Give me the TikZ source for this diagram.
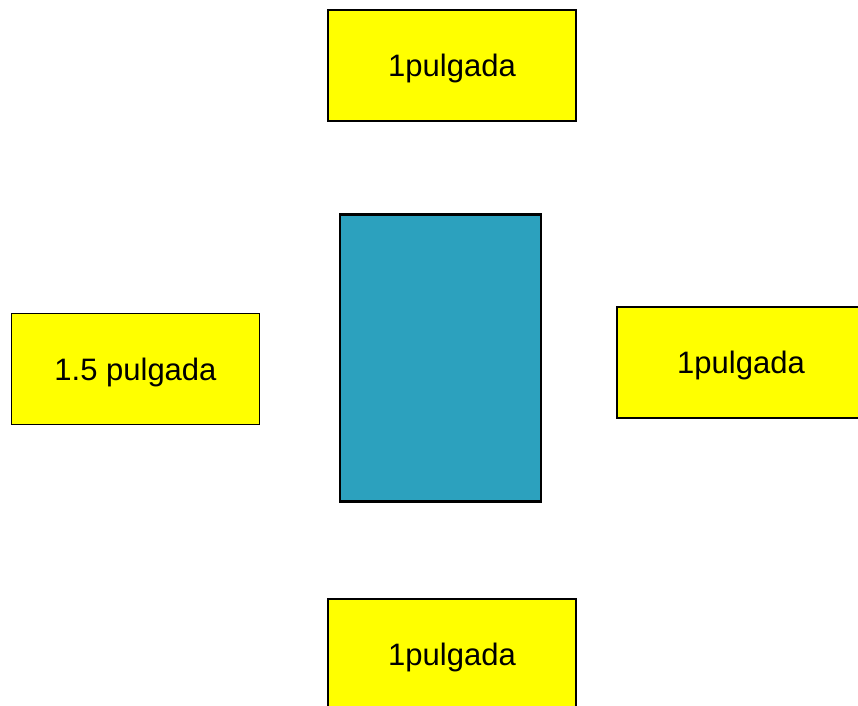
\documentclass[tikz,border=0pt]{standalone}
\usepackage{fontspec}
\setmainfont{Liberation Sans}
\usepackage{xcolor}
\usepackage{tikz}
\definecolor{tealbox}{RGB}{44,161,190}
\definecolor{amarillo}{RGB}{255,255,0}
\tikzset{
    medida/.style = {rectangle, draw=black, line width=1.8pt, fill=amarillo, inner sep=0pt, text depth=0pt,
                     minimum width=248pt, minimum height=111pt, font=\fontsize{31}{36}\selectfont},
    pieza/.style = {rectangle, draw=black, line width=2.6pt, fill=tealbox, inner sep=0pt,
                    minimum width=201pt, minimum height=287pt}
}
\begin{document}
\begin{tikzpicture}[x=1pt,y=-1pt]
    \useasboundingbox (0,0) rectangle (858,705);
    \node [pieza] (centro) at (440.5,358) {};
    \node [medida] (arriba) at (452,65.5) {1pulgada};
    \node [medida] (izq) at (135.5,369) {1.5 pulgada};
    \node [medida] (der) at (741,362.5) {1pulgada};
    \node [medida] (abajo) at (452,654.5) {1pulgada};
\end{tikzpicture}
\end{document}
